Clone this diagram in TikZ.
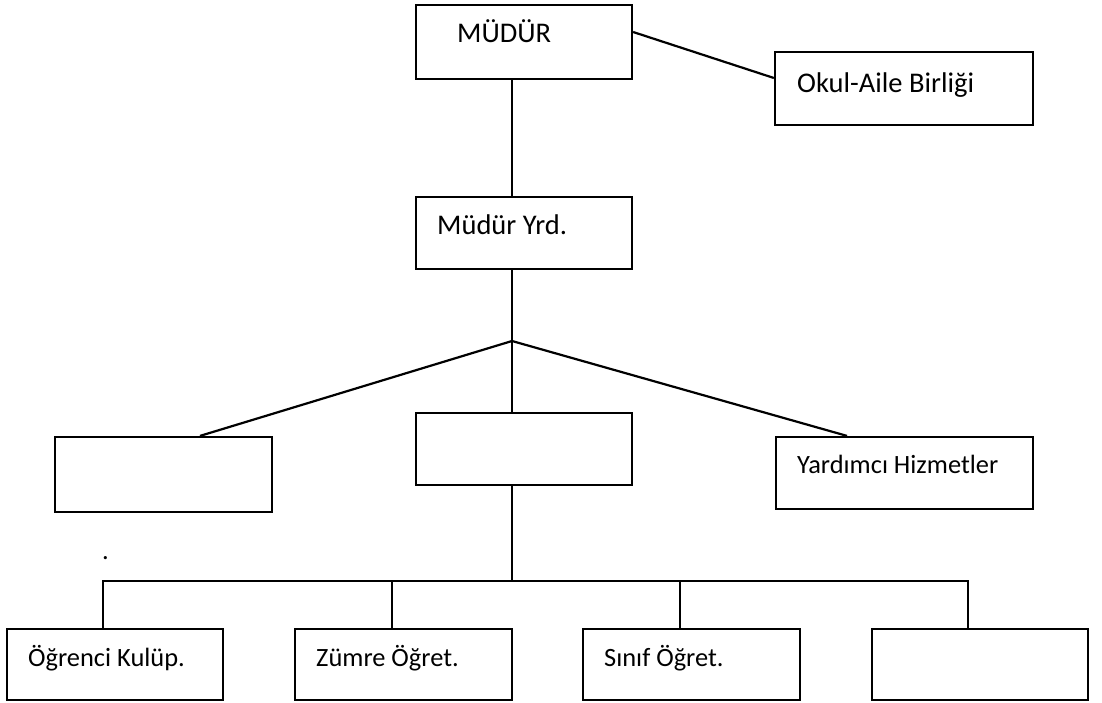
\documentclass[tikz,border=0pt]{standalone}
\usepackage{fontspec}
\setmainfont{Carlito}
\begin{document}
\begin{tikzpicture}[x=1pt,y=-1pt,
  box/.style={draw=black, line width=2.2pt, rectangle, inner sep=0pt},
  big/.style={font=\fontsize{28.5}{34}\selectfont, anchor=base west, inner sep=0pt},
  small/.style={font=\fontsize{26.4}{31}\selectfont, anchor=base west, inner sep=0pt},
  conn/.style={line width=2.2pt, draw=black}]
\useasboundingbox (0,0) rectangle (1102,703);
\coordinate (spine) at (512,0);
% boxes
\node[box, minimum width=216pt, minimum height=74pt] (mudur) at (524,42) {};
\node[box, minimum width=258pt, minimum height=73pt] (okul) at (904,88.5) {};
\node[box, minimum width=216pt, minimum height=72pt] (yrd) at (524,233) {};
\node[box, minimum width=217pt, minimum height=75pt] (left) at (163.5,474.5) {};
\node[box, minimum width=216pt, minimum height=72pt] (mid) at (524,449) {};
\node[box, minimum width=257pt, minimum height=72pt] (yard) at (904.5,473) {};
\node[box, minimum width=216pt, minimum height=71pt] (b1) at (115,664.5) {};
\node[box, minimum width=217pt, minimum height=71pt] (b2) at (403.5,664.5) {};
\node[box, minimum width=217pt, minimum height=71pt] (b3) at (691.5,664.5) {};
\node[box, minimum width=216pt, minimum height=71pt] (b4) at (980,664.5) {};
% texts
\node[big] (tm) at (457,43) {MÜDÜR};
\node[big] (to) at (797,93) {Okul-Aile Birliği};
\node[big] (ty) at (437,235) {Müdür Yrd.};
\node[small] (th) at (797,473) {Yardımcı Hizmetler};
\node[small] (t1) at (28,666) {Öğrenci Kulüp.};
\node[small] (t2) at (316,666) {Zümre Öğret.};
\node[small] (t3) at (604,666) {Sınıf Öğret.};
\node[small] (dot) at (102,559) {.};
% connectors
\coordinate (j) at (512,341);
\coordinate (bus) at (512,581);
\draw[conn] (mudur.south -| spine) -- (yrd.north -| spine);
\draw[conn] ([yshift=10pt]mudur.east) -- ([yshift=10.5pt]okul.west);
\draw[conn] (yrd.south -| spine) -- (j);
\draw[conn] (j) -- ([xshift=36.5pt]left.north);
\draw[conn] (j) -- (mid.north -| spine);
\draw[conn] (j) -- ([xshift=-57.5pt]yard.north);
\draw[conn] (mid.south -| spine) -- (bus);
\draw[conn] ([xshift=-12pt]b1.north) |- (bus) -| ([xshift=-12pt]b4.north);
\draw[conn] ([xshift=-11.5pt]b2.north) -- ([xshift=-11.5pt]b2.north |- bus);
\draw[conn] ([xshift=-11.5pt]b3.north) -- ([xshift=-11.5pt]b3.north |- bus);
\end{tikzpicture}
\end{document}
